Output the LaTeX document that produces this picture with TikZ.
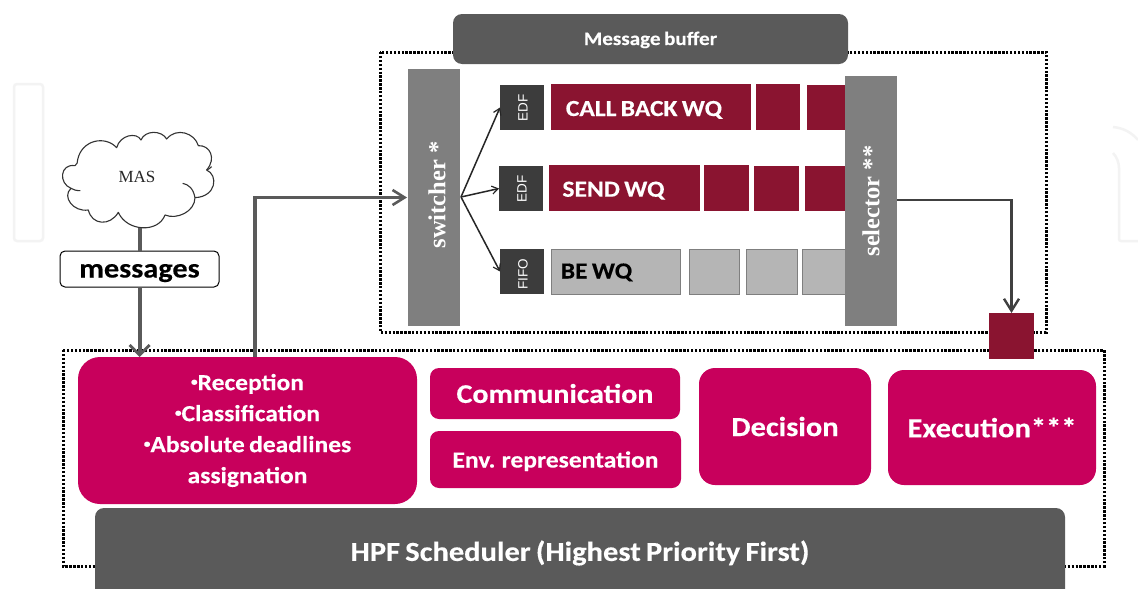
\documentclass[tikz,border=0pt]{standalone}
\usepackage{fontspec}
\setmainfont[FakeStretch=1.11,WordSpace=0.75,BoldFeatures={FakeBold=0.3}]{Carlito}
\newfontfamily\serifb{Liberation Serif}
\newfontfamily\arialf{Liberation Sans}
\usetikzlibrary{arrows.meta}
\definecolor{mag}{HTML}{C8005C}
\definecolor{wine}{HTML}{8A1430}
\definecolor{dgrey}{HTML}{5A5A5A}
\definecolor{mgrey}{HTML}{7F7F7F}
\definecolor{lgrey}{HTML}{B5B5B5}
\definecolor{edfc}{HTML}{3C3C3C}
\definecolor{faintc}{HTML}{F3F3F3}
\newcommand{\bx}[7][]{%
  \pgfmathsetmacro{\bxw}{#5-#3}\pgfmathsetmacro{\bxh}{#6-#4}%
  \pgfmathsetmacro{\bxx}{(#5+#3)/2}\pgfmathsetmacro{\bxy}{(#6+#4)/2}%
  \node[rect,minimum width=\bxw pt,minimum height=\bxh pt,#1] (#2) at (\bxx,\bxy) {#7};}
\newcommand{\smbul}{{\fontsize{12}{12}\selectfont\raisebox{4.5pt}{\textbullet}}}
\tikzset{
  x=1pt,y=-1pt,
  rect/.style={draw=none,inner sep=0pt,outer sep=0pt,align=center,font=\bfseries},
  magbox/.style={fill=mag,text=white,rounded corners=#1},
  magbox/.default=12pt,
  darkbox/.style={fill=dgrey,text=white,rounded corners=9pt},
  greybar/.style={fill=mgrey},
  winebox/.style={fill=wine,text=white},
  bebox/.style={fill=lgrey,draw=mgrey,line width=0.8pt},
  algbox/.style={fill=edfc},
  algtxt/.style={text=white,rotate=90,font=\arialf\fontsize{13.5}{14}\selectfont},
  bartxt/.style={text=white,rotate=90,font=\serifb\bfseries\fontsize{24.5}{24.5}\selectfont},
  dots/.style={draw=black,line width=3pt,dash pattern=on 2.4pt off 1.5pt},
  heavyflow/.style={draw=dgrey,line width=4.2pt},
  heavyarrow/.style={heavyflow,-{Straight Barb[length=10pt,width=20pt,line width=2.8pt]}},
  flow/.style={draw=dgrey,line width=3.2pt,-{Straight Barb[length=12pt,width=15pt,line width=2.6pt]}},
  outflow/.style={draw=black!75,line width=2.8pt,-{Straight Barb[length=12pt,width=15pt,line width=2.4pt]}},
  fork/.style={draw=black!85,line width=1.5pt,-{Straight Barb[length=6pt,width=8pt,line width=1.2pt]}},
  ttl/.style={font=\bfseries\fontsize{#1}{#1}\selectfont},
  base/.style={text height=2*#1,text depth=0pt},
}
\begin{document}
\begin{tikzpicture}
\useasboundingbox (0,0) rectangle (1138,589);
\clip (0,0) rectangle (1138,589);
\fill[white] (0,0) rectangle (1138,589);
% faint marks
\draw[faintc,line width=2.5pt,rounded corners=3pt] (14,84) rectangle (43,241);
\draw[faintc,line width=2.5pt] (1113,127) .. controls (1124,128) and (1132,133) .. (1138,140);
\draw[faintc,line width=2.5pt,rounded corners=2pt] (1113,153) .. controls (1117,157) and (1119,163) .. (1119,170) -- (1119,241) -- (1138,241);
% dotted frames
\coordinate (ua) at (380,52); \coordinate (ub) at (1046,332);
\coordinate (la) at (63,350); \coordinate (lb) at (1104,566);
\draw[dots] (ua) rectangle (ub);
\draw[dots] (la) rectangle (lb);
% cloud
\begin{scope}[shift={(55,125)},x=0.3333pt,y=-0.3333pt]
\draw[draw=black!80,line width=1.1pt,fill=white,line join=round]
  (60,122) .. controls (68,118) and (66,112) .. (68,104)
  .. controls (80,45) and (150,30) .. (185,68)
  .. controls (195,30) and (245,20) .. (258,45)
  .. controls (270,15) and (320,15) .. (335,42)
  .. controls (365,5) and (420,25) .. (430,62)
  .. controls (465,60) and (485,100) .. (455,135)
  .. controls (490,150) and (485,215) .. (420,218)
  .. controls (420,260) and (365,285) .. (330,270)
  .. controls (310,325) and (215,320) .. (190,262)
  .. controls (165,305) and (110,300) .. (100,255)
  .. controls (55,262) and (20,215) .. (48,190)
  .. controls (10,175) and (15,115) .. (60,122) -- cycle;
\draw[draw=black!80,line width=1.1pt] (383,175) .. controls (400,178) and (415,190) .. (420,218);
\draw[draw=black!80,line width=1.1pt] (48,190) .. controls (55,195) and (65,197) .. (76,197);
\draw[draw=black!80,line width=1.1pt] (455,135) .. controls (460,133) and (465,130) .. (470,125);
\coordinate (cloudbot) at (254,310);
\end{scope}
\node[font=\serifb\fontsize{17}{17}\selectfont,text=black!85] (mas) at (137,177) {MAS};
% message box
\bx[draw=black,line width=1pt,fill=white,rounded corners=5pt,text=black,ttl=27.3,base=8.5]{msg}{60}{251}{219}{287}{messages}
% bottom modules
\bx[magbox=22pt,ttl=23]{rec}{78}{357}{417}{504}{\smbul Reception\\[8pt]\smbul Classification\\[8pt]\smbul Absolute deadlines\\[8pt]assignation}
\bx[magbox=9pt,ttl=27]{com}{430}{368}{680}{419}{Communication}
\bx[magbox=9pt,ttl=23,base=8]{env}{430}{431}{681}{488}{Env. representation}
\bx[magbox=16pt,ttl=27.5]{dec}{699}{368}{871}{485}{Decision}
\bx[magbox=16pt,ttl=27.5]{exe}{888}{370}{1096}{485}{Execution***}
\bx[darkbox,ttl=27.5]{hpf}{95}{508}{1065}{598}{HPF Scheduler (Highest Priority First)}
% message buffer
\bx[darkbox,ttl=19,base=6]{buf}{453}{14}{848}{64}{Message buffer}
% switcher / selector
\bx[greybar]{swi}{408}{69}{460}{326}{}
\node[bartxt] (switxt) at (437,195) {switcher *};
% queues
\bx[algbox]{q1}{500}{85}{544}{130}{}
\node[algtxt] (q1t) at (523,108) {EDF};
\bx[algbox]{q2}{499}{166}{543}{211}{}
\node[algtxt] (q2t) at (522,189) {EDF};
\bx[algbox]{q3}{500}{249}{544}{294}{}
\node[algtxt] (q3t) at (523,274) {FIFO};
\bx[winebox,ttl=23,base=9]{a1}{551}{84}{751}{130}{\hspace*{-14pt}CALL BACK WQ}
\bx[winebox]{a2}{756}{84}{800}{130}{}
\bx[winebox]{a3}{807}{85}{850}{130}{}
\bx[winebox,ttl=23,base=8.7]{b1}{549}{165}{700}{211}{\hspace*{-22pt}SEND WQ}
\bx[winebox]{b2}{704}{165}{749}{211}{}
\bx[winebox]{b3}{754}{166}{799}{211}{}
\bx[winebox]{b4}{805}{166}{850}{211}{}
\bx[bebox,ttl=23,text=black,base=7]{c1}{551}{249}{680}{294}{\hspace*{-38pt}BE WQ}
\bx[bebox]{c2}{689}{249}{739}{294}{}
\bx[bebox]{c3}{746}{249}{797}{294}{}
\bx[bebox]{c4}{802}{249}{850}{294}{}
\bx[greybar]{sel}{845}{76}{897}{326}{}
\node[bartxt] (seltxt) at (871,201) {selector **};
\bx[winebox]{sq}{989}{313}{1034}{359}{}
% connectors
\draw[heavyflow] (cloudbot) -- (cloudbot |- msg.north);
\draw[heavyarrow] (cloudbot |- msg.south) -- (cloudbot |- rec.north);
\coordinate (recup) at (255,357);
\coordinate (swin) at (407,197.5);
\draw[flow] (recup) -- (recup |- swin) -- (swin);
\coordinate (swout) at (461,197);
\draw[fork] (swout) -- (q1.west);
\draw[fork] (swout) -- (q2.west);
\draw[fork] (swout) -- (q3.west);
\coordinate (selout) at (897,200);
\draw[outflow] (selout) -- (sq.north |- selout) -- (sq.north);
\end{tikzpicture}
\end{document}
